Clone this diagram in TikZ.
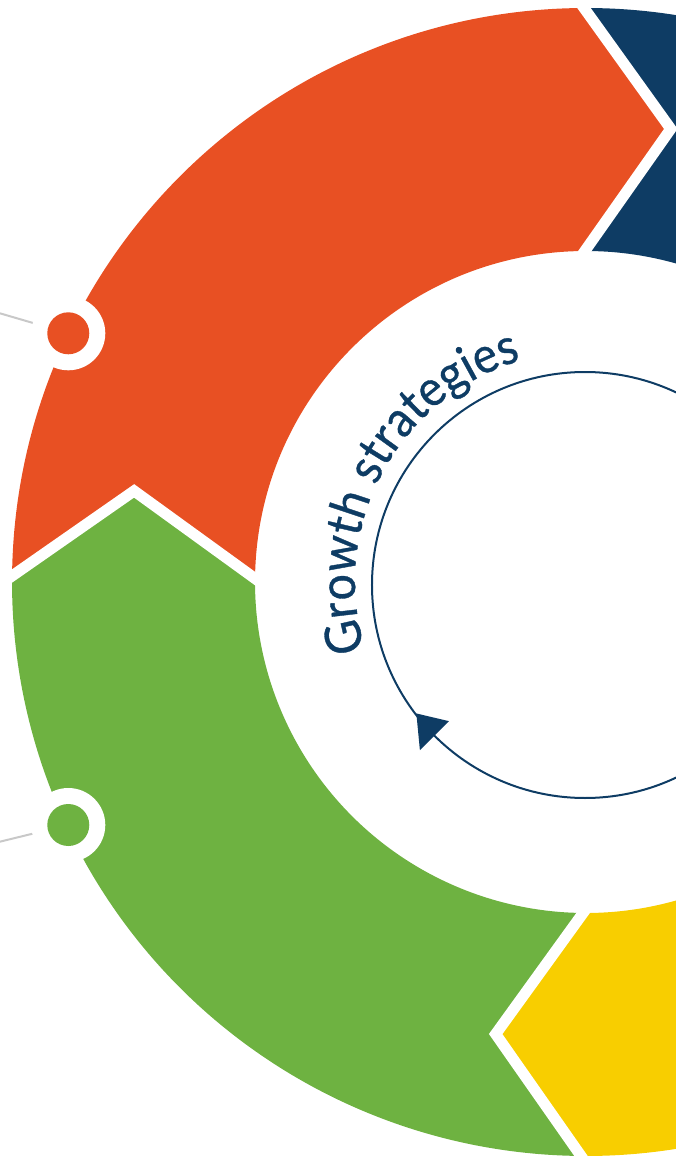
\documentclass[tikz,border=0pt]{standalone}
\usepackage{fontspec}
\newfontfamily\labelfont[FakeBold=0.7,FakeStretch=0.93]{Lato}
\usetikzlibrary{calc,decorations.text}
\definecolor{segorange}{HTML}{E85023}
\definecolor{seggreen}{HTML}{6EB241}
\definecolor{segnavy}{HTML}{0E3C64}
\definecolor{segyellow}{HTML}{F8CE00}
\definecolor{leader}{HTML}{C8C8C8}
\begin{document}
\begin{tikzpicture}[x=1pt,y=1pt,
  gap/.style={white,line width=11pt,line join=miter},
  leaderline/.style={leader,line width=2pt},
  cycleline/.style={segnavy,line width=2pt}]
\useasboundingbox (-586,-578) rectangle (90,582);
% ring radii and chevron geometry
\def\Ro{574}\def\Ri{331}\def\Rt{461}\def\tipoff{10.8}
\foreach \b/\n in {90.2/top,179.4/left,269.5/bot,360/right}{
  \coordinate (O\n) at (\b:\Ro);
  \coordinate (T\n) at (\b-\tipoff:\Rt);
  \coordinate (I\n) at (\b:\Ri);
}
% ring segments
\fill[segorange] (Oleft) arc[start angle=179.4,end angle=90.2,radius=\Ro]
  -- (Ttop) -- (Itop) arc[start angle=90.2,end angle=179.4,radius=\Ri] -- (Tleft) -- cycle;
\fill[segnavy] (Otop) arc[start angle=90.2,end angle=0,radius=\Ro]
  -- (Tright) -- (Iright) arc[start angle=0,end angle=90.2,radius=\Ri] -- (Ttop) -- cycle;
\fill[seggreen] (Obot) arc[start angle=269.5,end angle=179.4,radius=\Ro]
  -- (Tleft) -- (Ileft) arc[start angle=179.4,end angle=269.5,radius=\Ri] -- (Tbot) -- cycle;
\fill[segyellow] (Oright) arc[start angle=360,end angle=269.5,radius=\Ro]
  -- (Tbot) -- (Ibot) arc[start angle=269.5,end angle=360,radius=\Ri] -- (Tright) -- cycle;
% white gaps between segments
\foreach \n in {top,left,bot,right}{
  \draw[gap] ($(T\n)!1.15!(O\n)$) -- (T\n) -- ($(T\n)!1.15!(I\n)$);
}
% leader lines and marker dots
\coordinate (dotA) at (-517.7,248.7);
\coordinate (dotB) at (-517.7,-243);
\coordinate (endA) at (-596,271.6);
\coordinate (endB) at (-596,-262.1);
\draw[leaderline] (endA) -- (dotA);
\draw[leaderline] (endB) -- (dotB);
\fill[white] (dotA) circle (37);
\fill[segorange] (dotA) circle (21);
\fill[white] (dotB) circle (37);
\fill[seggreen] (dotB) circle (21);
% inner cycle with arrowhead
\coordinate (S) at (-1,-3);
\draw[cycleline] (S) circle (213);
\fill[segnavy] ($(S)+(217.3:212)$) -- ($(S)+(225:233.5)$) -- ($(S)+(225:192.5)$) -- cycle;
% curved title
\path[decorate,decoration={text along path,text align=center,
  text={|\labelfont\fontsize{50}{50}\selectfont\color{segnavy}|Growth strategies}}]
  (203:231) arc[start angle=203,end angle=100.4,radius=231];
\end{tikzpicture}
\end{document}
